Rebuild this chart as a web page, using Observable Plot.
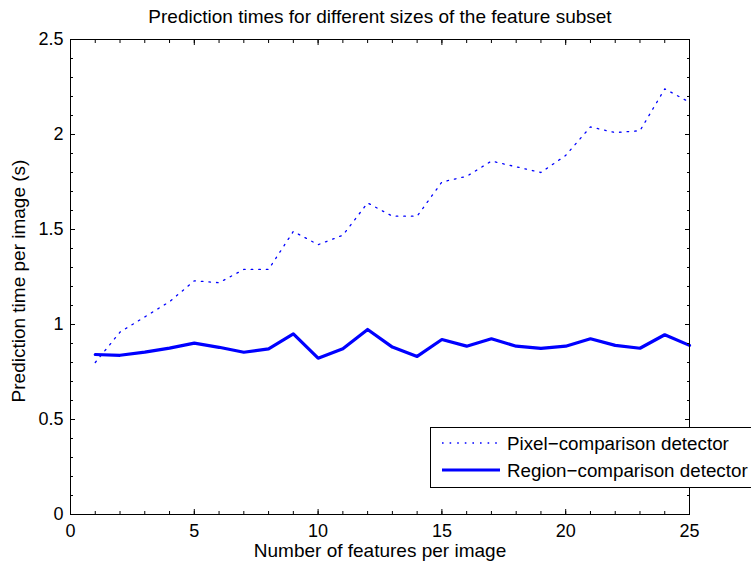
<!DOCTYPE html>
<html><head><meta charset="utf-8">
<script src="https://cdn.jsdelivr.net/npm/d3@7"></script>
<script src="https://cdn.jsdelivr.net/npm/@observablehq/plot@0.6"></script>
<style>
body{margin:0;background:#fff;}
svg{font-family:"Liberation Sans",Arial,sans-serif;}
</style></head>
<body><div id="chart"></div>
<script>
const features = [1,2,3,4,5,6,7,8,9,10,11,12,13,14,15,16,17,18,19,20,21,22,23,24,25];
const pixelTimes = [0.80,0.96,1.04,1.12,1.23,1.22,1.29,1.29,1.49,1.42,1.47,1.64,1.57,1.57,1.75,1.78,1.86,1.83,1.80,1.89,2.04,2.01,2.02,2.24,2.17];
const regionTimes = [0.842,0.838,0.855,0.876,0.902,0.88,0.854,0.872,0.951,0.823,0.872,0.974,0.881,0.832,0.921,0.886,0.925,0.886,0.874,0.886,0.925,0.89,0.875,0.946,0.89];
const xMajor = [0,5,10,15,20,25];
const xMinor = d3.range(0,26,1);
const yMajor = [0,0.5,1,1.5,2,2.5];
const yMinor = d3.range(0,26).map(i=>i/10);
const seriesNames = ["Pixel\u2212comparison detector","Region\u2212comparison detector"];
const title = "Prediction times for different sizes of the feature subset";
const xLabel = "Number of features per image";
const yLabel = "Prediction time per image (s)";

const pixel = features.map((f,i)=>({x:f,y:pixelTimes[i]}));
const region = features.map((f,i)=>({x:f,y:regionTimes[i]}));
const blue = "#0000ff";
const fs = 18;
const dots = "1.6,6";

const plot = Plot.plot({
  width: 751, height: 563,
  marginLeft: 70, marginRight: 62, marginTop: 39, marginBottom: 49,
  style: {fontFamily: "Liberation Sans, Arial, sans-serif", fontSize: fs+"px", background:"#fff"},
  x: {domain:[0,25]},
  y: {domain:[0,2.5]},
  marks: [
    Plot.line(pixel,{x:"x",y:"y",stroke:blue,strokeWidth:1.3,strokeDasharray:dots}),
    Plot.line(region,{x:"x",y:"y",stroke:blue,strokeWidth:3.2}),
    Plot.axisX({anchor:"bottom",ticks:xMinor,tickSize:-3,text:null,label:null,tickFormat:null}),
    Plot.axisX({anchor:"top",ticks:xMinor,tickSize:-3,text:null,label:null,tickFormat:null}),
    Plot.axisX({anchor:"bottom",ticks:xMajor,tickSize:-5,text:null,label:null,tickFormat:null}),
    Plot.axisX({anchor:"top",ticks:xMajor,tickSize:-5,text:null,label:null,tickFormat:null}),
    Plot.axisY({anchor:"left",ticks:yMinor,tickSize:-3,text:null,label:null,tickFormat:null}),
    Plot.axisY({anchor:"right",ticks:yMinor,tickSize:-3,text:null,label:null,tickFormat:null}),
    Plot.axisY({anchor:"left",ticks:yMajor,tickSize:-5,text:null,label:null,tickFormat:null}),
    Plot.axisY({anchor:"right",ticks:yMajor,tickSize:-5,text:null,label:null,tickFormat:null}),
    Plot.axisX({anchor:"bottom",ticks:xMajor,tickSize:0,tickPadding:10,label:null,tickFormat:d=>String(d),fill:"#000",fontSize:fs}),
    Plot.axisY({anchor:"left",ticks:yMajor,tickSize:0,tickPadding:7,label:null,tickFormat:d=>String(d),fill:"#000",fontSize:fs}),
    Plot.frame({stroke:"#000",strokeWidth:1})
  ]
});
document.getElementById("chart").appendChild(plot);

const svg = d3.select(plot);
svg.attr("overflow","visible");
svg.append("text").attr("x",380).attr("y",23).attr("text-anchor","middle")
  .attr("font-size",19).attr("fill","#000").text(title);
svg.append("text").attr("x",380).attr("y",557).attr("text-anchor","middle")
  .attr("font-size",19).attr("fill","#000").text(xLabel);
svg.append("text").attr("transform","translate(25,281) rotate(-90)").attr("text-anchor","middle")
  .attr("font-size",19).attr("fill","#000").text(yLabel);

const lg = svg.append("g");
lg.append("rect").attr("x",430.5).attr("y",427.5).attr("width",340).attr("height",60)
  .attr("fill","#fff").attr("stroke","#000").attr("stroke-width",1);
[0,1].forEach(i=>{
  const yy = 443 + i*27;
  lg.append("line").attr("x1",442).attr("x2",500).attr("y1",yy).attr("y2",yy)
    .attr("stroke",blue).attr("stroke-width", i===0?1.3:3.2)
    .attr("stroke-dasharray", i===0?dots:null);
  lg.append("text").attr("x",507).attr("y",yy).attr("dy","0.35em").attr("text-anchor","start")
    .attr("font-size",18.8).attr("fill","#000").text(seriesNames[i]);
});
</script>
</body></html>
